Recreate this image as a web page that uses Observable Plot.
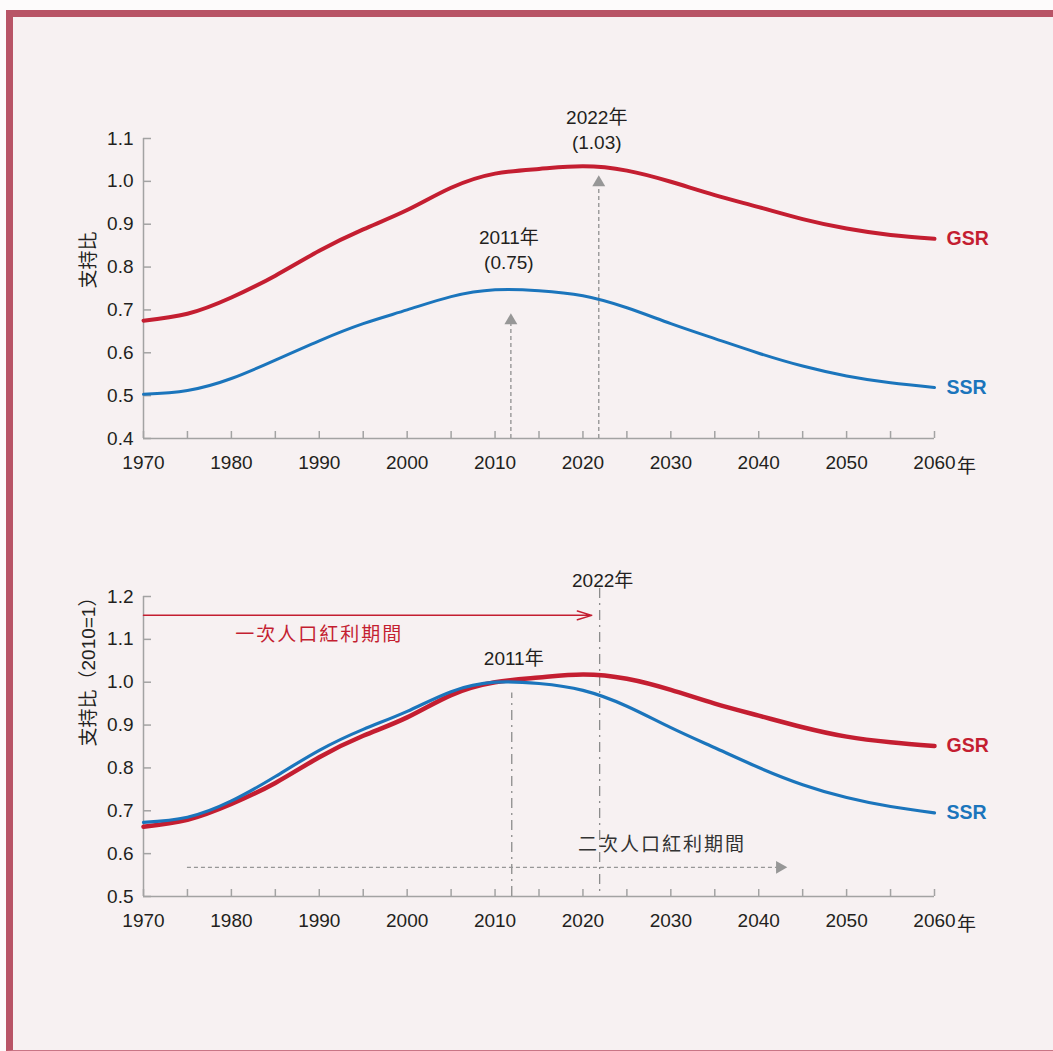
<!DOCTYPE html>
<html><head><meta charset="utf-8">
<script src="https://cdn.jsdelivr.net/npm/d3@7"></script>
<script src="https://cdn.jsdelivr.net/npm/@observablehq/plot@0.6"></script>
<style>
html,body{margin:0;padding:0;background:#fdfbfb;width:1053px;height:1051px;overflow:hidden;position:relative}
#panel{position:absolute;left:6px;top:10px;width:1047px;height:1041px;background:#f7f1f2;border-top:7px solid #b85466;border-left:7px solid #b85466;border-bottom:1px solid #c97585;box-sizing:border-box}
.chart{position:absolute;left:0}
#top{top:90px}
#bottom{top:540px}
</style>
</head><body>
<div id="panel"></div>
<div id="top" class="chart"></div>
<div id="bottom" class="chart"></div>
<script>
// ---- data ----
const years = [1970,1975,1980,1985,1990,1995,2000,2005,2010,2015,2020,2025,2030,2035,2040,2045,2050,2055,2060];
// top: support ratios
const gsrTop = [0.675,0.691,0.729,0.780,0.838,0.888,0.933,0.985,1.018,1.029,1.035,1.025,0.999,0.968,0.940,0.912,0.890,0.875,0.866];
const ssrTop = [0.503,0.512,0.540,0.583,0.628,0.668,0.700,0.731,0.747,0.745,0.733,0.705,0.668,0.633,0.599,0.569,0.546,0.530,0.519];
// bottom: indexed (2010=1)
const gsrIdx = [0.663,0.679,0.716,0.765,0.825,0.875,0.918,0.970,1.000,1.011,1.018,1.008,0.982,0.950,0.922,0.895,0.873,0.860,0.851];
const ssrIdx = [0.673,0.685,0.723,0.780,0.841,0.890,0.932,0.978,1.000,0.997,0.981,0.944,0.894,0.847,0.801,0.761,0.731,0.710,0.695];
const seriesNames = ["GSR","SSR"];
const xLabelTicks = [1970,1980,1990,2000,2010,2020,2030,2040,2050,2060];
const xMinorTicks = [1970,1975,1980,1985,1990,1995,2000,2005,2010,2015,2020,2025,2030,2035,2040,2045,2050,2055,2060];
const yTicksTop = [0.4,0.5,0.6,0.7,0.8,0.9,1.0,1.1];
const yTicksBottom = [0.5,0.6,0.7,0.8,0.9,1.0,1.1,1.2];
const yearSuffix = "年";
const yLabelTop = "支持比";
const yLabelBottom = "支持比（2010=1）";
// annotations ("at" = where the marker is drawn on the year axis)
const peaks = [{year:2011, at:2011.8, series:"SSR", value:0.75}, {year:2022, at:2021.8, series:"GSR", value:1.03}];
const peakArrowTips = [{year:2011, at:2011.8, tip:0.675}, {year:2022, at:2021.8, tip:0.997}];
const bottomMarkers = [{year:2011, at:2011.9, top:0.975}, {year:2022, at:2021.9, top:null}];
const firstDividend = {label:"一次人口紅利期間", start:1970, end:2021, level:1.156, labelYear:1990};
const secondDividend = {label:"二次人口紅利期間", start:1975, end:2042.4, level:0.568, labelYear:2029};

// ---- styles ----
const RED = "#c41e31", BLUE = "#1b75bc", AXIS = "#a3a3a3", INK = "#231f20", GRAY = "#979797";
const FONT = "'Liberation Sans', Arial, 'Noto Sans CJK TC', sans-serif";
const FS = 19;

function rows(g, s) {
  return years.flatMap((year, i) => [
    {year, series: "GSR", value: g[i]},
    {year, series: "SSR", value: s[i]}
  ]);
}

function baseMarks(yTicks, yLabel, yMin) {
  return [
    Plot.ruleX([1970], {stroke: AXIS, strokeWidth: 1.5}),
    Plot.ruleY([yMin], {stroke: AXIS, strokeWidth: 1.5}),
    Plot.axisY({ticks: yTicks, tickSize: 0, tickPadding: 10, tickFormat: ".1f", fill: INK, fontSize: FS, label: null}),
    Plot.axisY({ticks: yTicks, tickSize: -8, tickFormat: () => "", stroke: AXIS, strokeWidth: 1.5, label: null}),
    Plot.axisX({ticks: xLabelTicks, tickSize: 0, tickPadding: 17, tickFormat: "d", fill: INK, fontSize: FS, label: null}),
    Plot.axisX({ticks: xMinorTicks, tickSize: -7, tickFormat: () => "", stroke: AXIS, strokeWidth: 1.5, label: null}),
    Plot.text([2060], {x: d => d, frameAnchor: "bottom", dy: 28, dx: 32, text: () => yearSuffix, fill: INK, fontSize: FS, lineAnchor: "middle"}),
    Plot.text([yLabel], {frameAnchor: "left", text: d => d, rotate: -90, dx: -55, fill: INK, fontSize: FS})
  ];
}

function seriesMarks(data, widths) {
  const col = {GSR: RED, SSR: BLUE};
  return [
    ...seriesNames.map(name => Plot.line(data.filter(d => d.series === name), {
      x: "year", y: "value", stroke: col[name], strokeWidth: widths[name], curve: "natural"
    })),
    Plot.text(data, Plot.selectLast({
      x: "year", y: "value", z: "series", text: "series",
      fill: d => col[d.series], fontWeight: "bold", fontSize: 19.5, textAnchor: "start", dx: 12
    }))
  ];
}

// ---- top chart ----
const topData = rows(gsrTop, ssrTop);
const topPlot = Plot.plot({
  width: 1053, height: 400,
  marginLeft: 143, marginRight: 119, marginTop: 48, marginBottom: 52,
  style: {fontFamily: FONT, fontSize: FS + "px", color: INK, background: "transparent", overflow: "visible"},
  x: {domain: [1970, 2060], axis: null},
  y: {domain: [0.4, 1.1], axis: null},
  marks: [
    ...baseMarks(yTicksTop, yLabelTop, 0.4),
    Plot.ruleX(peakArrowTips, {x: "at", y1: 0.4, y2: "tip", stroke: GRAY, strokeWidth: 1.4, strokeDasharray: "4,3"}),
    Plot.dot(peakArrowTips, {x: "at", y: "tip", symbol: "triangle", r: 4.8, fill: GRAY, stroke: "none"}),
    ...seriesMarks(topData, {GSR: 4, SSR: 3}),
    Plot.text(peaks, {x: "at", y: "value", dx: -2, text: d => `${d.year}${yearSuffix}\n(${d.value.toFixed(2)})`,
      lineAnchor: "bottom", dy: -20, lineHeight: 1.3, fill: INK, fontSize: FS})
  ]
});
document.getElementById("top").appendChild(topPlot);

// ---- bottom chart ----
const botData = rows(gsrIdx, ssrIdx);
const dashDot = "10,5,2,5";
const botPlot = Plot.plot({
  width: 1053, height: 400,
  marginLeft: 143, marginRight: 119, marginTop: 56, marginBottom: 44,
  style: {fontFamily: FONT, fontSize: FS + "px", color: INK, background: "transparent", overflow: "visible"},
  x: {domain: [1970, 2060], axis: null},
  y: {domain: [0.5, 1.2], axis: null},
  marks: [
    ...baseMarks(yTicksBottom, yLabelBottom, 0.5),
    // marker lines
    Plot.ruleX(bottomMarkers.filter(d => d.top == null), {x: "at", insetTop: -8, stroke: "#8c8c8c", strokeWidth: 1.3, strokeDasharray: dashDot}),
    Plot.ruleX(bottomMarkers.filter(d => d.top != null), {x: "at", y1: 0.5, y2: "top", stroke: "#8c8c8c", strokeWidth: 1.3, strokeDasharray: dashDot}),
    Plot.text(bottomMarkers.filter(d => d.top == null), {x: "at", frameAnchor: "top", dy: -23, dx: 3, text: d => `${d.year}${yearSuffix}`, fill: INK, fontSize: FS}),
    Plot.text(bottomMarkers.filter(d => d.top != null), {x: "at", y: 1.0, dy: -23, dx: 2, text: d => `${d.year}${yearSuffix}`, fill: INK, fontSize: FS}),
    // first dividend arrow
    Plot.arrow([firstDividend], {x1: "start", x2: "end", y1: "level", y2: "level", stroke: RED, strokeWidth: 1.5, headLength: 15, headAngle: 34}),
    Plot.text([firstDividend], {x: "labelYear", y: "level", dy: 20, text: "label", fill: RED, fontSize: FS}),
    // second dividend arrow
    Plot.ruleY([secondDividend], {x1: "start", x2: "end", y: "level", stroke: GRAY, strokeWidth: 1.4, strokeDasharray: "4,3"}),
    Plot.dot([secondDividend], {x: "end", y: "level", symbol: "triangle", rotate: 90, r: 4.8, fill: GRAY, stroke: "none"}),
    Plot.text([secondDividend], {x: "labelYear", y: "level", dy: -22, text: "label", fill: "#333", fontSize: FS}),
    ...seriesMarks(botData, {GSR: 4.5, SSR: 3.2})
  ]
});
document.getElementById("bottom").appendChild(botPlot);

// letter spacing for the dividend captions
d3.select(botPlot).selectAll("text")
  .filter(function() { return this.textContent.includes("人口紅利"); })
  .style("letter-spacing", "2px");
</script>
</body></html>
